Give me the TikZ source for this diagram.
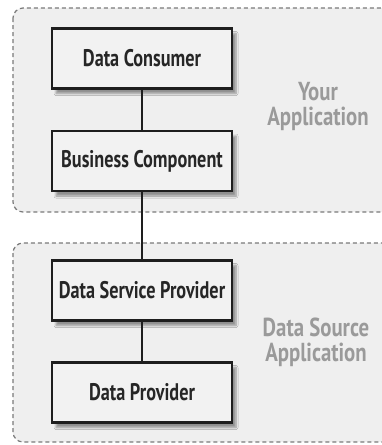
\documentclass[tikz,border=0pt]{standalone}
\usepackage{fontspec}
\setmainfont{PT Sans}[FakeStretch=0.76]
\newfontfamily\labelfont{PT Sans}[FakeStretch=0.8]
\usetikzlibrary{shadows.blur}
\definecolor{regionfill}{HTML}{EFEFEF}
\definecolor{regionline}{HTML}{7A7A7A}
\definecolor{boxfill}{HTML}{F2F2F2}
\definecolor{boxline}{HTML}{1E1E1E}
\definecolor{labelgray}{HTML}{9A9A9A}
\tikzset{
  region/.style={draw=regionline, fill=regionfill, dashed, dash pattern=on 4pt off 3pt,
    line width=1.2pt, rounded corners=10pt},
  compbox/.style={draw=boxline, fill=boxfill, line width=2.4pt, minimum width=180pt,
    minimum height=60pt, font=\fontsize{24}{26}\selectfont\bfseries, text=black!85,
    blur shadow={shadow xshift=4pt, shadow yshift=-5pt, shadow blur steps=6,
      shadow opacity=40}},
  link/.style={draw=boxline, line width=2.2pt},
  applabel/.style={text=labelgray, font=\labelfont\fontsize{26}{25}\selectfont\bfseries,
    align=center}
}
\begin{document}
\begin{tikzpicture}[x=1pt,y=-1pt]
  \useasboundingbox (0,0) rectangle (382,445);
  % application regions, running off the right edge
  \path[region] (13,8) rectangle (400,212);
  \path[region] (13,243) rectangle (400,442);
  % components
  \node[compbox] (consumer) at (142,58.5) {Data Consumer};
  \node[compbox] (business) at (142,161) {Business Component};
  \node[compbox] (service) at (142,290.5) {Data Service Provider};
  \node[compbox] (provider) at (142,392.5) {Data Provider};
  % links
  \draw[link] (consumer) -- (business);
  \draw[link] (business) -- (service);
  \draw[link] (service) -- (provider);
  % region labels
  \node[applabel] (yourapp) at (318,106) {Your\\Application};
  \node[applabel] (sourceapp) at (316,342) {Data Source\\Application};
\end{tikzpicture}
\end{document}
